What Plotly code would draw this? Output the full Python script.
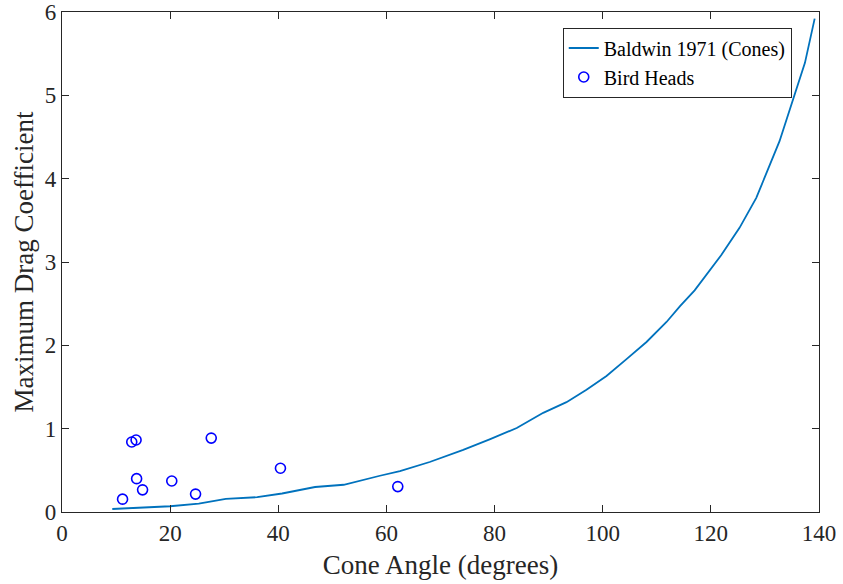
import plotly.graph_objects as go

# Baldwin 1971 (Cones) curve
cone_angle = [9.3, 14, 20, 25.3, 30.3, 36.1, 40.7, 46.8, 52.1, 58.8, 62.5, 68, 74.2,
              79.2, 84.1, 89, 93.3, 97, 100.7, 104.4, 108.1, 111.8, 114.3, 117,
              120.1, 121.9, 125.3, 128.4, 132.7, 135.2, 137.4, 139.2]
cone_cd = [0.036, 0.05, 0.069, 0.10, 0.157, 0.178, 0.222, 0.30, 0.327, 0.435, 0.49,
           0.6, 0.746, 0.875, 1.008, 1.19, 1.318, 1.466, 1.632, 1.834, 2.04, 2.28,
           2.47, 2.66, 2.93, 3.08, 3.41, 3.77, 4.45, 4.94, 5.39, 5.92]

# Bird heads
bird_angle = [11.2, 12.9, 13.7, 13.8, 14.9, 20.3, 24.7, 27.6, 40.4, 62.1]
bird_cd = [0.154, 0.84, 0.864, 0.40, 0.266, 0.372, 0.215, 0.887, 0.525, 0.305]

x_ticks = [0, 20, 40, 60, 80, 100, 120, 140]
y_ticks = [0, 1, 2, 3, 4, 5, 6]

FONT = "'Liberation Serif', 'Times New Roman', serif"
AX = "#262626"

fig = go.Figure()
fig.add_trace(go.Scatter(x=cone_angle, y=cone_cd, mode="lines",
                         name="Baldwin 1971 (Cones)",
                         line=dict(color="#0072BD", width=1.8)))
fig.add_trace(go.Scatter(x=bird_angle, y=bird_cd, mode="markers",
                         name="Bird Heads",
                         marker=dict(symbol="circle-open", size=10,
                                     color="#0000FF", line=dict(width=1.6, color="#0000FF"))))

axis_common = dict(showgrid=False, zeroline=False, showline=True, linecolor=AX,
                   linewidth=1.2, mirror="ticks", ticks="inside", ticklen=7,
                   tickcolor=AX, tickwidth=1, automargin=False,
                   tickfont=dict(family=FONT, size=23, color="#262626"))

fig.update_layout(
    width=843, height=584,
    margin=dict(l=62, r=24, t=12, b=72),
    paper_bgcolor="white", plot_bgcolor="white",
    font=dict(family=FONT, color="#262626"),
    xaxis=dict(range=[0, 140], tickvals=x_ticks,
               title=dict(text="Cone Angle (degrees)", font=dict(family=FONT, size=27), standoff=10),
               **axis_common),
    yaxis=dict(range=[0, 6], tickvals=y_ticks,
               title=dict(text="Maximum Drag Coefficient", font=dict(family=FONT, size=27), standoff=3),
               **axis_common),
    legend=dict(x=0.964, y=0.969, xanchor="right", yanchor="top",
                bgcolor="white", bordercolor=AX, borderwidth=1,
                font=dict(family=FONT, size=20, color="black"),
                itemwidth=30, tracegroupgap=0),
    showlegend=True,
)

fig.write_html("out.html")
